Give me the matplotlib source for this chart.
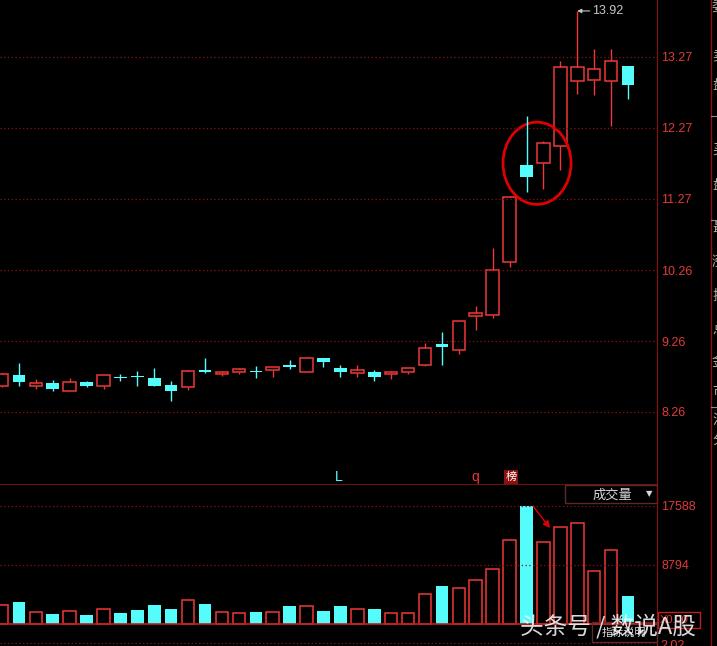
import matplotlib
matplotlib.use("Agg")
import matplotlib.pyplot as plt
from matplotlib.patches import Ellipse, Rectangle

# daily candles (price), oldest first
opens = [8.63, 8.78, 8.62, 8.67, 8.55, 8.68, 8.62, 8.75, 8.77, 8.74,
         8.64, 8.61, 8.85, 8.79, 8.82, 8.83, 8.85, 8.92, 8.83, 9.02,
         8.88, 8.81, 8.82, 8.79, 8.83, 8.92, 9.22, 9.13, 9.61, 9.63,
         10.37, 11.75, 11.77, 12.01, 12.93, 12.94, 12.93, 13.14]
closes = [8.80, 8.68, 8.67, 8.58, 8.68, 8.63, 8.78, 8.74, 8.75, 8.63,
          8.56, 8.84, 8.82, 8.82, 8.86, 8.82, 8.89, 8.89, 9.02, 8.96,
          8.82, 8.85, 8.76, 8.83, 8.88, 9.17, 9.18, 9.54, 9.66, 10.26,
          11.30, 11.57, 12.05, 13.13, 13.13, 13.10, 13.22, 12.87]
highs = [8.81, 8.95, 8.72, 8.71, 8.74, 8.70, 8.78, 8.80, 8.84, 8.88,
         8.70, 8.85, 9.02, 8.84, 8.88, 8.91, 8.89, 9.00, 9.04, 9.02,
         8.92, 8.92, 8.85, 8.84, 8.88, 9.24, 9.39, 9.54, 9.76, 10.57,
         11.31, 12.44, 12.08, 13.21, 13.92, 13.38, 13.38, 13.14]
lows = [8.61, 8.63, 8.58, 8.55, 8.55, 8.61, 8.59, 8.70, 8.63, 8.62,
        8.41, 8.57, 8.81, 8.77, 8.79, 8.74, 8.76, 8.87, 8.83, 8.90,
        8.75, 8.76, 8.70, 8.72, 8.79, 8.91, 8.92, 9.08, 9.42, 9.59,
        10.31, 11.37, 11.41, 11.68, 12.75, 12.73, 12.29, 12.68]
volumes = [2830, 3280, 1740, 1490, 1890, 1340, 2190, 1640, 2090, 2780,
           2240, 3530, 2980, 1740, 1590, 1790, 1740, 2680, 2680, 1940,
           2680, 2190, 2240, 1640, 1590, 4420, 5660, 5320, 6560, 8150,
           12470, 17588, 12170, 14410, 15010, 7900, 10980, 4170]

price_ticks = [13.27, 12.27, 11.27, 10.26, 9.26, 8.26]
vol_ticks = [17588, 8794]

RED = "#f03838"
CYAN = "#54fcfc"
DARKRED = "#8c1010"
LABEL = "#e03a3a"

W, H = 717, 646
fig = plt.figure(figsize=(W / 100, H / 100), dpi=100, facecolor="black")
plt.rcParams['font.family'] = ['Liberation Sans', 'Noto Sans CJK SC', 'DejaVu Sans']


def fx(px):
    return px / W


def fy(py):
    return 1 - py / H


step = 16.92
x0 = 2.0
xl = (-x0 / step, (657 - x0) / step)

ax = fig.add_axes([0, fy(485), fx(657), 485 / H], facecolor="black")
axv = fig.add_axes([0, 0, fx(657), fy(485)], facecolor="black")

n = len(opens)
xs = list(range(n))
w = 0.74
for i in xs:
    o, c, h, l = opens[i], closes[i], highs[i], lows[i]
    up = c >= o
    lo, hi = min(o, c), max(o, c)
    if up:
        ax.vlines(i, hi, h, color=RED, lw=1)
        ax.vlines(i, l, lo, color=RED, lw=1)
        ax.bar(i, max(hi - lo, 0.012), bottom=lo, width=w, facecolor="black",
               edgecolor=RED, linewidth=1.1)
        axv.bar(i, volumes[i], width=w, facecolor="black", edgecolor=RED, linewidth=1.1)
    else:
        ax.vlines(i, l, h, color=CYAN, lw=1)
        ax.bar(i, max(hi - lo, 0.02), bottom=lo, width=w, color=CYAN, linewidth=0)
        axv.bar(i, volumes[i], width=w, color=CYAN, linewidth=0)

# price axis
ax.set_xlim(*xl)
ax.set_ylim(14.0744 - 0.014113 * 485, 14.0744)
for t in price_ticks:
    ax.axhline(t, color=DARKRED, lw=0.9, ls=(0, (1, 2)))
ax.yaxis.tick_right()
ax.set_yticks(price_ticks)
ax.set_yticklabels([f"{t:.2f}" for t in price_ticks], color=LABEL, fontsize=9)
ax.tick_params(axis="y", length=0, pad=3)
ax.set_xticks([])
for s in ["top", "left"]:
    ax.spines[s].set_visible(False)
ax.spines["right"].set_color(DARKRED)
ax.spines["bottom"].set_color(DARKRED)
ax.spines["bottom"].set_linewidth(1.2)

# high marker
ih = highs.index(max(highs))
ax.annotate(f"{max(highs):.2f}", xy=(ih, max(highs)), xytext=(ih + 0.9, max(highs)),
            color="#c8c8c8", fontsize=9, va="center",
            arrowprops=dict(arrowstyle="-|>", color="#c8c8c8", lw=0.8,
                            mutation_scale=6, shrinkA=0, shrinkB=0))

# circle annotation
ax.add_patch(Ellipse((31.62, 11.77), 4.02, 1.16, fill=False, edgecolor="#e00000", lw=2))

# volume axis
axv.set_xlim(*xl)
axv.set_ylim(-22 * 149.05, 139 * 149.05)
for t in vol_ticks:
    axv.axhline(t, color=DARKRED, lw=0.9, ls=(0, (1, 2)))
axv.axhline(0, color="#c02020", lw=1.2)
axv.axhline(-19 * 149.05, color=DARKRED, lw=0.9, ls=(0, (1, 2)))
axv.yaxis.tick_right()
axv.set_yticks(vol_ticks)
axv.set_yticklabels([str(t) for t in vol_ticks], color=LABEL, fontsize=9)
axv.tick_params(axis="y", length=0, pad=3)
axv.set_xticks([])
for s in ["top", "left", "bottom"]:
    axv.spines[s].set_visible(False)
axv.spines["right"].set_color(DARKRED)

axv.annotate("", xy=(32.39, 14300), xytext=(31.38, 17588),
             arrowprops=dict(arrowstyle="-|>", color="#e00000", lw=1,
                             mutation_scale=10, shrinkA=0, shrinkB=0))

# indicator box
axv.add_patch(Rectangle((fx(565) / fx(657), (646 - 503) / 161), (657 - 565) / 657, 18 / 161,
                        transform=axv.transAxes, fill=False, edgecolor="#5a2a2a", lw=1,
                        clip_on=False))
fig.text(fx(612), fy(495), "成交量", color="#d8d8d8", fontsize=9.5, ha="center", va="center",
         family=['Noto Sans CJK SC'])
fig.text(fx(649), fy(494), "▼", color="#d8d8d8", fontsize=6, ha="center", va="center",
         family=['DejaVu Sans'])

# bottom right
fig.patches.append(Rectangle((fx(592), fy(642)), fx(65), 20 / H, transform=fig.transFigure,
                             fill=False, edgecolor="#5a2a2a", lw=1))
fig.text(fx(624), fy(633), "指标说明", color="#d8d8d8", fontsize=8, ha="center", va="center",
         family=['Noto Sans CJK SC'])
fig.patches.append(Rectangle((fx(658), fy(628)), fx(42), 16 / H, transform=fig.transFigure,
                             fill=False, edgecolor="#c02020", lw=1))
fig.text(fx(660), fy(620), "X0.00", color=LABEL, fontsize=8, va="center")
fig.text(fx(660), fy(646), "2.02", color=LABEL, fontsize=9, va="center")

# signal markers
fig.text(fx(339), fy(477), "L", color=CYAN, fontsize=10, ha="center", va="center")
fig.text(fx(475), fy(477), "q", color=RED, fontsize=10, ha="center", va="center")
fig.text(fx(511), fy(477), "榜", color="white", fontsize=8, ha="center", va="center",
         family=['Noto Sans CJK SC'],
         bbox=dict(boxstyle="square,pad=0.15", facecolor="#8c1010", edgecolor="none"))

# right info strip (cut off)
fig.add_artist(plt.Line2D([fx(711), fx(711)], [0, 1], color=DARKRED, lw=1))
for yy in [116, 220, 407]:
    fig.add_artist(plt.Line2D([fx(711), 1], [fy(yy), fy(yy)], color="#8c8c8c", lw=0.8))
side = "委卖盘买盘最涨振总金市流分股"
ys = [8, 55, 85, 150, 185, 228, 262, 296, 330, 362, 392, 420, 440]
for ch, yy in zip(side, ys):
    fig.text(fx(712), fy(yy), ch, color="#b0b0b0", fontsize=10, va="center",
             family=['Noto Sans CJK SC'])

# watermark
fig.text(fx(608), fy(626), "头条号 / 数说A股", color="white", alpha=0.85, fontsize=17,
         ha="center", va="center", family=['Noto Sans CJK SC'])

fig.savefig("out.png", dpi=100, facecolor="black")
